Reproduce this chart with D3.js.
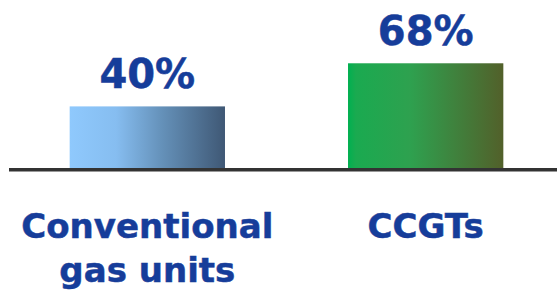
<!DOCTYPE html>
<html>
<head>
<meta charset="utf-8">
<script src="https://cdn.jsdelivr.net/npm/d3@7"></script>
<style>
  html, body { margin: 0; padding: 0; background: #fff; }
  svg { display: block; }
  text { font-family: "DejaVu Sans", Verdana, sans-serif; font-weight: bold; fill: #163d9a; stroke: #163d9a; stroke-width: 0.5px; }
</style>
</head>
<body>
<div id="chart"></div>
<script>
var categories = ["Conventional gas units", "CCGTs"];
var labelLines = [["Conventional", "gas units"], ["CCGTs"]];
var values = [40, 68];
var gradients = [
    [["0%", "#8fc9fd"], ["30%", "#86bdf0"], ["60%", "#6490b8"], ["100%", "#3f5875"]],
    [["0%", "#00b050"], ["5%", "#1aaa50"], ["40%", "#2ea14f"], ["100%", "#52602a"]]
];

var width = 557, height = 290;

var svg = d3.select("#chart").append("svg")
    .attr("width", width)
    .attr("height", height);

var defs = svg.append("defs");
gradients.forEach(function (stops, i) {
    var g = defs.append("linearGradient")
        .attr("id", "grad" + i)
        .attr("x1", "0%").attr("x2", "100%")
        .attr("y1", "0%").attr("y2", "0%");
    stops.forEach(function (s) {
        g.append("stop").attr("offset", s[0]).attr("stop-color", s[1]);
    });
});

var x = d3.scaleBand()
    .domain(categories)
    .range([14, 559])
    .paddingInner(0.442)
    .paddingOuter(0.2);

var y = d3.scaleLinear()
    .domain([0, 100])
    .range([168, 14]);

var data = categories.map(function (c, i) {
    return {label: c, value: values[i], lines: labelLines[i], idx: i};
});

svg.selectAll(".bar")
    .data(data)
    .enter().append("rect")
    .attr("class", "bar")
    .attr("x", function (d) { return x(d.label); })
    .attr("y", function (d) { return y(d.value); })
    .attr("width", x.bandwidth())
    .attr("height", function (d) { return y(0) - y(d.value); })
    .style("fill", function (d) { return "url(#grad" + d.idx + ")"; });

// baseline
svg.append("line")
    .attr("x1", 9)
    .attr("x2", width)
    .attr("y1", y(0) + 1.8)
    .attr("y2", y(0) + 1.8)
    .attr("stroke", "#333333")
    .attr("stroke-width", 3.5);

// value labels
svg.selectAll(".val")
    .data(data)
    .enter().append("text")
    .attr("class", "val")
    .attr("x", function (d) { return x(d.label) + x.bandwidth() / 2; })
    .attr("y", function (d) { return y(d.value) - 18; })
    .attr("text-anchor", "middle")
    .style("font-size", "40px")
    .text(function (d) { return d.value + "%"; });

// category labels
var cat = svg.selectAll(".cat")
    .data(data)
    .enter().append("text")
    .attr("class", "cat")
    .attr("text-anchor", "middle")
    .style("font-size", "34px");

cat.selectAll("tspan")
    .data(function (d) {
        return d.lines.map(function (l, j) {
            return {text: l, j: j, cx: x(d.label) + x.bandwidth() / 2};
        });
    })
    .enter().append("tspan")
    .attr("x", function (d) { return d.cx; })
    .attr("y", function (d) { return 238 + d.j * 44; })
    .text(function (d) { return d.text; });
</script>
</body>
</html>
